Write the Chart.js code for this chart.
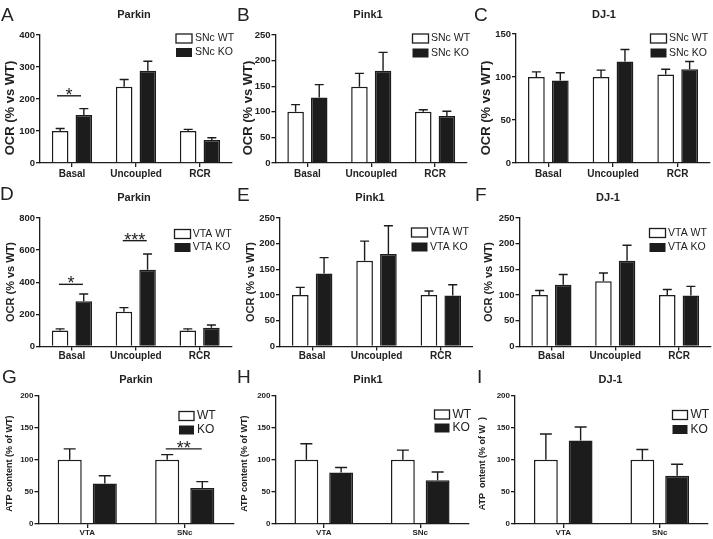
<!DOCTYPE html>
<html>
<head>
<meta charset="utf-8">
<script src="https://cdn.jsdelivr.net/npm/chart.js@4/dist/chart.umd.min.js"></script>
<style>
  html,body{margin:0;padding:0;background:#fff;}
  body{width:713px;height:539px;position:relative;overflow:hidden;}
  canvas{position:absolute;}
</style>
</head>
<body>
<canvas id="cA"></canvas><canvas id="cB"></canvas><canvas id="cC"></canvas>
<canvas id="cD"></canvas><canvas id="cE"></canvas><canvas id="cF"></canvas>
<canvas id="cG"></canvas><canvas id="cH"></canvas><canvas id="cI"></canvas>
<script>
// ---------------- DATA ----------------
const ocrCategories = ['Basal', 'Uncoupled', 'RCR'];
const atpCategories = ['VTA', 'SNc'];

// A: SNc Parkin OCR
const parkinSNcWT = [100, 238, 100];
const parkinSNcWTSem = [8, 23, 5];
const parkinSNcKO = [150, 288, 72];
const parkinSNcKOSem = [20, 30, 7];
const parkinSNcTicks = [0, 100, 200, 300, 400];
const parkinSNcSig = [['Basal', 210, '*']];

// B: SNc Pink1 OCR
const pink1SNcWT = [100, 149, 100];
const pink1SNcWTSem = [14, 26, 4];
const pink1SNcKO = [128, 180, 92];
const pink1SNcKOSem = [25, 36, 9];
const pink1SNcTicks = [0, 50, 100, 150, 200, 250];

// C: SNc DJ-1 OCR
const dj1SNcWT = [100, 100, 103];
const dj1SNcWTSem = [6, 8, 6];
const dj1SNcKO = [96, 118, 109];
const dj1SNcKOSem = [9, 14, 9];
const dj1SNcTicks = [0, 50, 100, 150];

// D: VTA Parkin OCR
const parkinVTAWT = [100, 217, 100];
const parkinVTAWTSem = [10, 25, 10];
const parkinVTAKO = [281, 478, 117];
const parkinVTAKOSem = [46, 98, 17];
const parkinVTATicks = [0, 200, 400, 600, 800];
const parkinVTASig = [['Basal', 387, '*'], ['Uncoupled', 659, '***']];

// E: VTA Pink1 OCR
const pink1VTAWT = [100, 167, 100];
const pink1VTAWTSem = [15, 38, 8];
const pink1VTAKO = [142, 180, 99];
const pink1VTAKOSem = [31, 55, 21];
const pink1VTATicks = [0, 50, 100, 150, 200, 250];

// F: VTA DJ-1 OCR
const dj1VTAWT = [100, 127, 100];
const dj1VTAWTSem = [9, 16, 11];
const dj1VTAKO = [120, 167, 99];
const dj1VTAKOSem = [20, 30, 18];
const dj1VTATicks = [0, 50, 100, 150, 200, 250];

// G: Parkin ATP content
const parkinATPWT = [100, 100];
const parkinATPWTSem = [17, 8];
const parkinATPKO = [63, 56];
const parkinATPKOSem = [12, 10];
const parkinATPTicks = [0, 50, 100, 150, 200];
const parkinATPSig = [['SNc', 117, '**']];

// H: Pink1 ATP content
const pink1ATPWT = [100, 100];
const pink1ATPWTSem = [25, 15];
const pink1ATPKO = [80, 68];
const pink1ATPKOSem = [8, 13];
const pink1ATPTicks = [0, 50, 100, 150, 200];

// I: DJ-1 ATP content
const dj1ATPWT = [100, 100];
const dj1ATPWTSem = [40, 16];
const dj1ATPKO = [130, 75];
const dj1ATPKOSem = [21, 18];
const dj1ATPTicks = [0, 50, 100, 150, 200];

// ---------------- STYLE / LAYOUT ----------------
const FONT = '"Liberation Sans", Arial, Helvetica, sans-serif';
const INK = '#1c1c1c';
const TXT = '#222222';

const styleTop = { yTitleSize: 13, tickSize: 9.5, catSize: 10, legendSize: 10.5, box: [16, 9], cap: 9, cp: 0.74, bp: 0.70, sigOff: [-15, 9], catPad: 1 };
const styleMid = Object.assign({}, styleTop, { yTitleSize: 11, sigOff: [-13, 11], catPad: 0 });
const styleBot = { yTitleSize: 9, tickSize: 8, catSize: 8, legendSize: 12, box: [15, 9], cap: 12, cp: 0.72, bp: 0.686, sigOff: [-19, 17], catPad: 0 };

const panels = [
  { id: 'cA', box: [0, 0, 235, 180], area: [40, 35, 232, 163], style: styleTop,
    labels: ocrCategories, wt: parkinSNcWT, wtSem: parkinSNcWTSem, ko: parkinSNcKO, koSem: parkinSNcKOSem, ticks: parkinSNcTicks, sig: parkinSNcSig,
    legend: ['SNc WT', 'SNc KO'], legendPos: [176, 38.5, 52.5, 195],
    title: 'Parkin', titlePos: [134, 17.5], letter: 'A', letterPos: [1, 20.5], yTitle: 'OCR (% vs WT)', yTitlePos: [10, 108] },
  { id: 'cB', box: [235, 0, 238, 180], area: [275.5, 35, 467, 163], style: styleTop,
    labels: ocrCategories, wt: pink1SNcWT, wtSem: pink1SNcWTSem, ko: pink1SNcKO, koSem: pink1SNcKOSem, ticks: pink1SNcTicks, sig: [],
    legend: ['SNc WT', 'SNc KO'], legendPos: [412.5, 38.5, 53, 431],
    title: 'Pink1', titlePos: [368, 17.5], letter: 'B', letterPos: [237, 20.5], yTitle: 'OCR (% vs WT)', yTitlePos: [248.5, 108] },
  { id: 'cC', box: [473, 0, 240, 180], area: [516, 34, 710, 163], style: styleTop,
    labels: ocrCategories, wt: dj1SNcWT, wtSem: dj1SNcWTSem, ko: dj1SNcKO, koSem: dj1SNcKOSem, ticks: dj1SNcTicks, sig: [],
    legend: ['SNc WT', 'SNc KO'], legendPos: [650.5, 38.5, 53, 669],
    title: 'DJ-1', titlePos: [604, 17.5], letter: 'C', letterPos: [474, 20.5], yTitle: 'OCR (% vs WT)', yTitlePos: [486.3, 108] },

  { id: 'cD', box: [0, 180, 235, 186], area: [40, 218, 231.5, 346.5], style: styleMid,
    labels: ocrCategories, wt: parkinVTAWT, wtSem: parkinVTAWTSem, ko: parkinVTAKO, koSem: parkinVTAKOSem, ticks: parkinVTATicks, sig: parkinVTASig,
    legend: ['VTA WT', 'VTA KO'], legendPos: [174.5, 234, 247.5, 192.7],
    title: 'Parkin', titlePos: [134, 200.5], letter: 'D', letterPos: [0, 200], yTitle: 'OCR (% vs WT)', yTitlePos: [10.5, 282] },
  { id: 'cE', box: [235, 180, 238, 186], area: [280, 218, 473, 346.5], style: styleMid,
    labels: ocrCategories, wt: pink1VTAWT, wtSem: pink1VTAWTSem, ko: pink1VTAKO, koSem: pink1VTAKOSem, ticks: pink1VTATicks, sig: [],
    legend: ['VTA WT', 'VTA KO'], legendPos: [411.5, 232.5, 247, 430],
    title: 'Pink1', titlePos: [370, 200.5], letter: 'E', letterPos: [237, 201], yTitle: 'OCR (% vs WT)', yTitlePos: [250.8, 282] },
  { id: 'cF', box: [473, 180, 240, 186], area: [519.5, 218, 711, 346.5], style: styleMid,
    labels: ocrCategories, wt: dj1VTAWT, wtSem: dj1VTAWTSem, ko: dj1VTAKO, koSem: dj1VTAKOSem, ticks: dj1VTATicks, sig: [],
    legend: ['VTA WT', 'VTA KO'], legendPos: [649.5, 233, 247.5, 668],
    title: 'DJ-1', titlePos: [608, 200.5], letter: 'F', letterPos: [475, 201], yTitle: 'OCR (% vs WT)', yTitlePos: [488.8, 282] },

  { id: 'cG', box: [0, 366, 235, 173], area: [38.5, 395.5, 233.5, 524], style: styleBot,
    labels: atpCategories, wt: parkinATPWT, wtSem: parkinATPWTSem, ko: parkinATPKO, koSem: parkinATPKOSem, ticks: parkinATPTicks, sig: parkinATPSig,
    legend: ['WT', 'KO'], legendPos: [179, 416, 430, 197],
    title: 'Parkin', titlePos: [136, 383], letter: 'G', letterPos: [2, 383.3], yTitle: 'ATP content (% of WT)', yTitlePos: [9.7, 463.7] },
  { id: 'cH', box: [235, 366, 238, 173], area: [275.5, 395.5, 468.5, 524], style: styleBot,
    labels: atpCategories, wt: pink1ATPWT, wtSem: pink1ATPWTSem, ko: pink1ATPKO, koSem: pink1ATPKOSem, ticks: pink1ATPTicks, sig: [],
    legend: ['WT', 'KO'], legendPos: [434.5, 414.5, 428, 452.5],
    title: 'Pink1', titlePos: [368, 383], letter: 'H', letterPos: [237, 383.3], yTitle: 'ATP content (% of WT)', yTitlePos: [244.5, 463.7] },
  { id: 'cI', box: [473, 366, 240, 173], area: [515, 395.5, 708, 524], style: styleBot,
    labels: atpCategories, wt: dj1ATPWT, wtSem: dj1ATPWTSem, ko: dj1ATPKO, koSem: dj1ATPKOSem, ticks: dj1ATPTicks, sig: [],
    legend: ['WT', 'KO'], legendPos: [672.5, 415, 429.5, 690.5],
    title: 'DJ-1', titlePos: [610.5, 383], letter: 'I', letterPos: [477, 383.3], yTitle: 'ATP  ontent (% of W  )', yTitlePos: [482.5, 463.7] }
];

Chart.defaults.font.family = FONT;

function makeDecor(p) {
  const ox = p.box[0], oy = p.box[1], s = p.style;
  return {
    id: 'decor_' + p.id,
    afterDatasetsDraw(chart) {
      const ctx = chart.ctx, xs = chart.scales.x, ys = chart.scales.y;
      ctx.save();
      ctx.strokeStyle = INK;
      ctx.lineWidth = 1.4;
      // error bars (upper SEM)
      chart.data.datasets.forEach((ds, di) => {
        const meta = chart.getDatasetMeta(di);
        meta.data.forEach((bar, i) => {
          const v = ds.data[i], e = ds.sem[i];
          const yTop = ys.getPixelForValue(v + e);
          const yBar = ys.getPixelForValue(v);
          ctx.beginPath();
          ctx.moveTo(bar.x, yBar);
          ctx.lineTo(bar.x, yTop);
          ctx.moveTo(bar.x - s.cap / 2, yTop);
          ctx.lineTo(bar.x + s.cap / 2, yTop);
          ctx.stroke();
        });
      });
      // significance marks
      p.sig.forEach(([cat, val, txt]) => {
        const cx = xs.getPixelForValue(p.labels.indexOf(cat));
        const y = ys.getPixelForValue(val);
        ctx.beginPath();
        ctx.moveTo(cx + s.sigOff[0], y);
        ctx.lineTo(cx + s.sigOff[1], y);
        ctx.stroke();
        ctx.fillStyle = TXT;
        ctx.font = '18px ' + FONT;
        ctx.textAlign = 'center';
        ctx.textBaseline = 'alphabetic';
        ctx.fillText(txt, cx + (s.sigOff[0] + s.sigOff[1]) / 2, y + 5);
      });
      ctx.restore();
    },
    afterDraw(chart) {
      const ctx = chart.ctx;
      ctx.save();
      ctx.fillStyle = TXT;
      // panel letter
      ctx.font = '19px ' + FONT;
      ctx.textAlign = 'left';
      ctx.textBaseline = 'alphabetic';
      ctx.fillText(p.letter, p.letterPos[0] - ox, p.letterPos[1] - oy);
      // title
      ctx.font = 'bold 11px ' + FONT;
      ctx.textAlign = 'center';
      ctx.fillText(p.title, p.titlePos[0] - ox, p.titlePos[1] - oy);
      // y axis title
      ctx.save();
      ctx.translate(p.yTitlePos[0] - ox, p.yTitlePos[1] - oy);
      ctx.rotate(-Math.PI / 2);
      ctx.font = 'bold ' + s.yTitleSize + 'px ' + FONT;
      ctx.textAlign = 'center';
      ctx.textBaseline = 'middle';
      ctx.fillText(p.yTitle, 0, 0);
      ctx.restore();
      // legend
      const [lx, ly1, ly2, tx] = p.legendPos;
      const [bw, bh] = s.box;
      ctx.lineWidth = 1.3;
      ctx.strokeStyle = INK;
      ctx.fillStyle = '#ffffff';
      ctx.fillRect(lx - ox, ly1 - oy - bh / 2, bw, bh);
      ctx.strokeRect(lx - ox, ly1 - oy - bh / 2, bw, bh);
      ctx.fillStyle = INK;
      ctx.fillRect(lx - ox, ly2 - oy - bh / 2, bw, bh);
      ctx.fillStyle = TXT;
      ctx.font = s.legendSize + 'px ' + FONT;
      ctx.textAlign = 'left';
      ctx.textBaseline = 'middle';
      ctx.fillText(p.legend[0], tx - ox, ly1 - oy);
      ctx.fillText(p.legend[1], tx - ox, ly2 - oy);
      ctx.restore();
    }
  };
}

panels.forEach(p => {
  const cv = document.getElementById(p.id);
  const [bx, by, bw, bh] = p.box;
  const [L, T, R, B] = p.area;
  const s = p.style;
  cv.width = bw; cv.height = bh;
  cv.style.left = bx + 'px'; cv.style.top = by + 'px';
  cv.style.width = bw + 'px'; cv.style.height = bh + 'px';
  const yW = L - bx, padT = T - by, padR = bx + bw - R, xH = by + bh - B;
  const step = p.ticks[1] - p.ticks[0];
  new Chart(cv, {
    type: 'bar',
    data: {
      labels: p.labels,
      datasets: [
        { label: p.legend[0], data: p.wt, sem: p.wtSem, backgroundColor: '#ffffff', borderColor: INK, borderWidth: 1.5,
          categoryPercentage: s.cp, barPercentage: s.bp },
        { label: p.legend[1], data: p.ko, sem: p.koSem, backgroundColor: INK, borderColor: INK, borderWidth: 1.5,
          categoryPercentage: s.cp, barPercentage: s.bp }
      ]
    },
    options: {
      responsive: false,
      animation: false,
      devicePixelRatio: 1,
      layout: { padding: { left: 0, top: padT, right: padR, bottom: 0 } },
      plugins: { legend: { display: false }, tooltip: { enabled: false }, title: { display: false } },
      scales: {
        x: {
          grid: { display: true, drawOnChartArea: false, drawTicks: true, tickLength: 4, offset: false, color: INK, lineWidth: 1.3 },
          border: { display: true, color: INK, width: 1.3 },
          ticks: { color: TXT, font: { size: s.catSize, weight: 'bold', family: FONT }, padding: s.catPad, maxRotation: 0 },
          afterFit(scale) { scale.height = xH; }
        },
        y: {
          min: p.ticks[0], max: p.ticks[p.ticks.length - 1],
          grid: { display: true, drawOnChartArea: false, drawTicks: true, tickLength: 4, color: INK, lineWidth: 1.3 },
          border: { display: true, color: INK, width: 1.3 },
          ticks: { stepSize: step, color: TXT, font: { size: s.tickSize, weight: 'bold', family: FONT }, padding: 1 },
          afterFit(scale) { scale.width = yW; }
        }
      }
    },
    plugins: [makeDecor(p)]
  });
});
</script>
</body>
</html>
